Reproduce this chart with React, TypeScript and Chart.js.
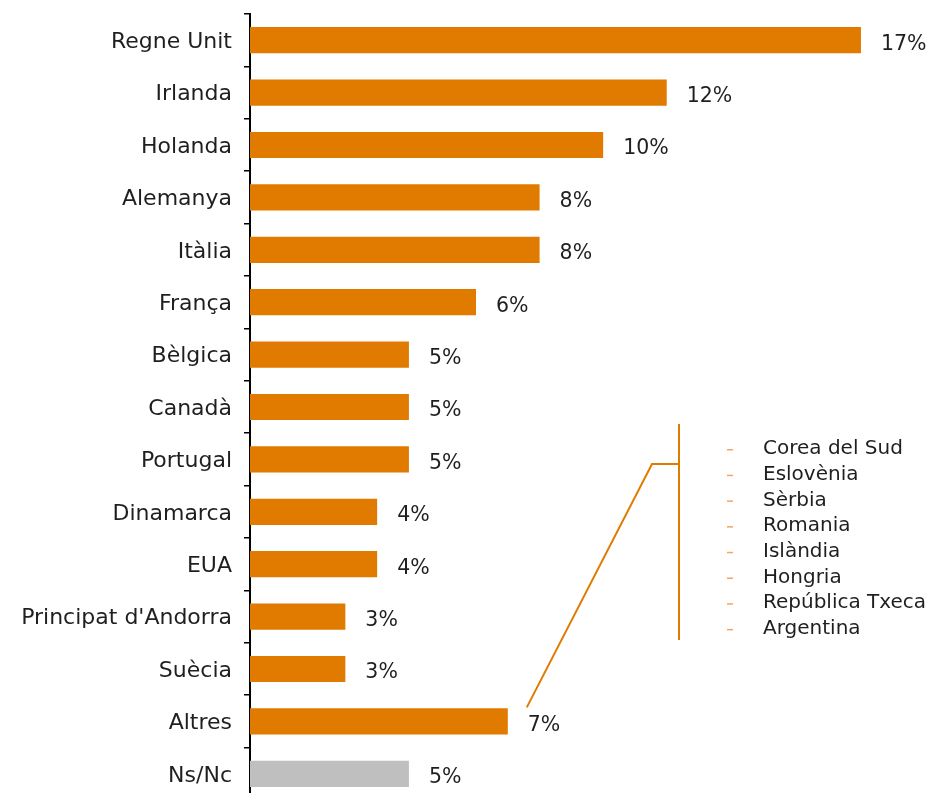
import React, { useEffect, useRef } from "react";
import { Chart, registerables } from "chart.js";

Chart.register(...registerables);

const categories = [
  "Regne Unit", "Irlanda", "Holanda", "Alemanya", "Itàlia", "França", "Bèlgica",
  "Canadà", "Portugal", "Dinamarca", "EUA", "Principat d'Andorra", "Suècia", "Altres", "Ns/Nc",
];
const values = [17.3, 11.8, 10.0, 8.2, 8.2, 6.4, 4.5, 4.5, 4.5, 3.6, 3.6, 2.7, 2.7, 7.3, 4.5];
const valueLabels = ["17%", "12%", "10%", "8%", "8%", "6%", "5%", "5%", "5%", "4%", "4%", "3%", "3%", "7%", "5%"];
const otherCountries = [
  "Corea del Sud", "Eslovènia", "Sèrbia", "Romania", "Islàndia", "Hongria", "República Txeca", "Argentina",
];

const ORANGE = "#E07B00";
const GRAY = "#BFBFBF";
const TEXT = "#1f1f1f";
const FONT = "'DejaVu Sans', sans-serif";

const labelsPlugin = {
  id: "valueLabels",
  afterDatasetsDraw(chart: any) {
    const { ctx } = chart;
    const meta = chart.getDatasetMeta(0);
    ctx.save();
    ctx.font = `20.5px ${FONT}`;
    ctx.fillStyle = TEXT;
    ctx.textAlign = "left";
    ctx.textBaseline = "middle";
    meta.data.forEach((bar: any, i: number) => {
      ctx.fillText(valueLabels[i], bar.x + 20, bar.y + 4);
    });

    // bracket annotation linking "Altres" to the list of other countries
    const altresBar = meta.data[categories.indexOf("Altres")];
    const endX = altresBar.x + 19;
    const endY = altresBar.y - 14;
    ctx.strokeStyle = ORANGE;
    ctx.lineWidth = 2;
    ctx.beginPath();
    ctx.moveTo(endX, endY);
    ctx.lineTo(652, 464);
    ctx.lineTo(679, 464);
    ctx.stroke();
    ctx.beginPath();
    ctx.moveTo(679, 424);
    ctx.lineTo(679, 640);
    ctx.stroke();

    ctx.font = `20px ${FONT}`;
    otherCountries.forEach((name, i) => {
      const y = 449 + i * 25.7;
      ctx.fillStyle = "#F0A860";
      ctx.fillRect(727, y, 6, 1.5);
      ctx.fillStyle = TEXT;
      ctx.fillText(name, 763, y);
    });
    ctx.restore();
  },
};

export default function App() {
  const canvasRef = useRef<HTMLCanvasElement>(null);

  useEffect(() => {
    const canvas = canvasRef.current;
    if (!canvas) return;
    const chart = new Chart(canvas, {
      type: "bar",
      data: {
        labels: categories,
        datasets: [
          {
            data: values,
            backgroundColor: categories.map((c) => (c === "Ns/Nc" ? GRAY : ORANGE)),
            categoryPercentage: 1,
            barPercentage: 0.5,
          },
        ],
      },
      options: {
        indexAxis: "y",
        responsive: false,
        animation: false,
        maintainAspectRatio: false,
        layout: { padding: { top: 14, right: 18, left: 0, bottom: 0 } },
        plugins: {
          legend: { display: false },
          tooltip: { enabled: false },
        },
        scales: {
          x: {
            display: false,
            min: 0,
            max: 19,
          },
          y: {
            afterFit(scale: any) {
              scale.width = 250;
              scale.paddingTop = 0;
              scale.paddingBottom = 0;
            },
            grid: {
              display: true,
              drawOnChartArea: false,
              drawTicks: true,
              tickLength: 6,
              color: "#000",
              lineWidth: 1.5,
              offset: true,
            },
            border: { display: true, color: "#000", width: 2 },
            ticks: {
              color: TEXT,
              padding: 12,
              labelOffset: 2,
              font: { family: FONT, size: 22 },
            },
          },
        },
      },
      plugins: [labelsPlugin],
    });
    return () => chart.destroy();
  }, []);

  return (
    <div style={{ position: "absolute", left: 0, top: 0, width: 939, height: 793, overflow: "hidden", background: "#fff" }}>
      <canvas ref={canvasRef} width={939} height={800} style={{ display: "block" }} />
    </div>
  );
}
